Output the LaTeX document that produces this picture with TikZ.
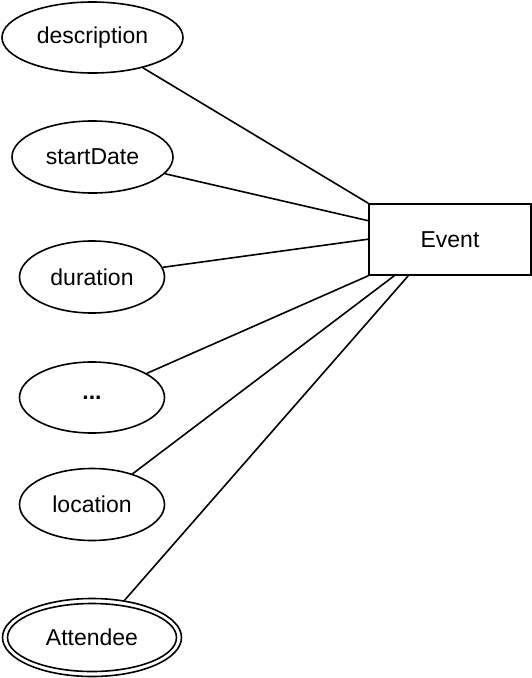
\documentclass[tikz,border=0pt]{standalone}
\usepackage{fontspec}
\setmainfont{Liberation Sans}
\usetikzlibrary{shapes.geometric,calc}
\begin{document}
\begin{tikzpicture}[x=1pt,y=-1pt,
  attr/.style={ellipse,draw,line width=1.6pt,inner sep=0pt,fill=white,font=\fontsize{23}{28}\selectfont},
  entity/.style={rectangle,draw,line width=1.6pt,inner sep=0pt,fill=white,minimum width=162pt,minimum height=71pt,font=\fontsize{23}{28}\selectfont},
  link/.style={line width=1.6pt}]
\useasboundingbox (0,0) rectangle (532,678);
\node[entity] (Event) at (450,239.5) {Event};
\node[attr,minimum width=181pt,minimum height=71pt] (desc) at (92.5,37.5) {description};
\node[attr,minimum width=161pt,minimum height=72pt] (start) at (92.5,157) {startDate};
\node[attr,minimum width=145pt,minimum height=72pt] (dur) at (92,277) {duration};
\node[attr,minimum width=145pt,minimum height=71pt] (dots) at (92,397.5) {\textbf{...}};
\node[attr,minimum width=145pt,minimum height=72pt] (loc) at (92,504.5) {location};
\node[attr,minimum width=179pt,minimum height=78pt] (att) at (92,637.5) {Attendee};
\draw[line width=1.6pt] (att.center) ellipse (84.5pt and 34pt);
\coordinate (e1) at ($(Event.north west)+(0,17.5)$);
\coordinate (e2) at ($(Event.north west)+(0,36)$);
\coordinate (e3) at ($(Event.south west)+(26,0)$);
\coordinate (e4) at ($(Event.south west)+(40,0)$);
\draw[link] (desc) -- (Event.north west);
\draw[link] (start) -- (e1);
\draw[link] (dur) -- (e2);
\draw[link] (dots) -- (Event.south west);
\draw[link] (loc) -- (e3);
\draw[link] (att) -- (e4);
\end{tikzpicture}
\end{document}
